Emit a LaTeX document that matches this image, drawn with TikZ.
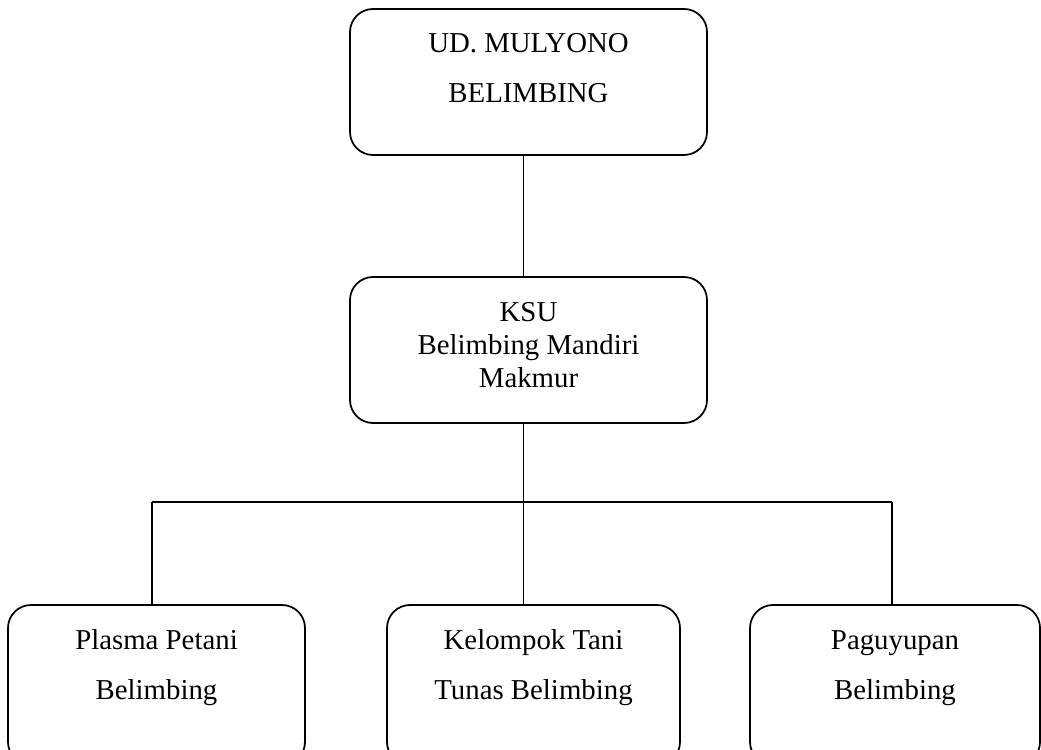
\documentclass[tikz,border=0pt]{standalone}
\usepackage{fontspec}
\setmainfont{Liberation Serif}
\usepackage{tikz}
\usepackage{xcolor}

\begin{document}
\begin{tikzpicture}[
  orgbox/.style={draw, line width=1pt, rectangle, rounded corners=0.46cm, minimum height=2.92cm},
  orgtext/.style={inner sep=0pt, align=center, font=\fontsize{16.4}{28.4}\selectfont},
  link/.style={line width=1pt}
]
\useasboundingbox (0,0) rectangle (20.82,14.98);

% Boxes
\node[orgbox, minimum width=7.14cm] (ud) at (10.57,13.34) {};
\node[orgbox, minimum width=7.14cm] (ksu) at (10.57,7.98) {};
\node[orgbox, minimum width=5.94cm, minimum height=3.2cm] (plasma) at (3.13,1.28) {};
\node[orgbox, minimum width=5.86cm, minimum height=3.2cm] (kelompok) at (10.67,1.28) {};
\node[orgbox, minimum width=5.80cm, minimum height=3.2cm] (paguyupan) at (17.90,1.28) {};

% Texts
\node[orgtext] (udtext) at (10.57,13.61) {UD. MULYONO\\BELIMBING};
\node[orgtext, font=\fontsize{16.4}{18.8}\selectfont] (ksutext) at (10.57,8.07) {KSU\\Belimbing Mandiri\\Makmur};
\node[orgtext] (plasmatext) at (3.13,1.62) {Plasma Petani\\Belimbing};
\node[orgtext] (kelompoktext) at (10.67,1.62) {Kelompok Tani\\Tunas Belimbing};
\node[orgtext] (paguyupantext) at (17.90,1.62) {Paguyupan\\Belimbing};

% Connectors
\coordinate (junc) at (10.47,4.94);
\coordinate (hleft) at (3.04,4.94);
\coordinate (hright) at (17.84,4.94);
\draw[link] (ud.south -| junc) -- (ksu.north -| junc);
\draw[link] (ksu.south -| junc) -- (kelompok.north -| junc);
\draw[link] (hleft) -- (hright);
\draw[link] (hleft) -- (plasma.north -| hleft);
\draw[link] (hright) -- (paguyupan.north -| hright);
\end{tikzpicture}
\end{document}
